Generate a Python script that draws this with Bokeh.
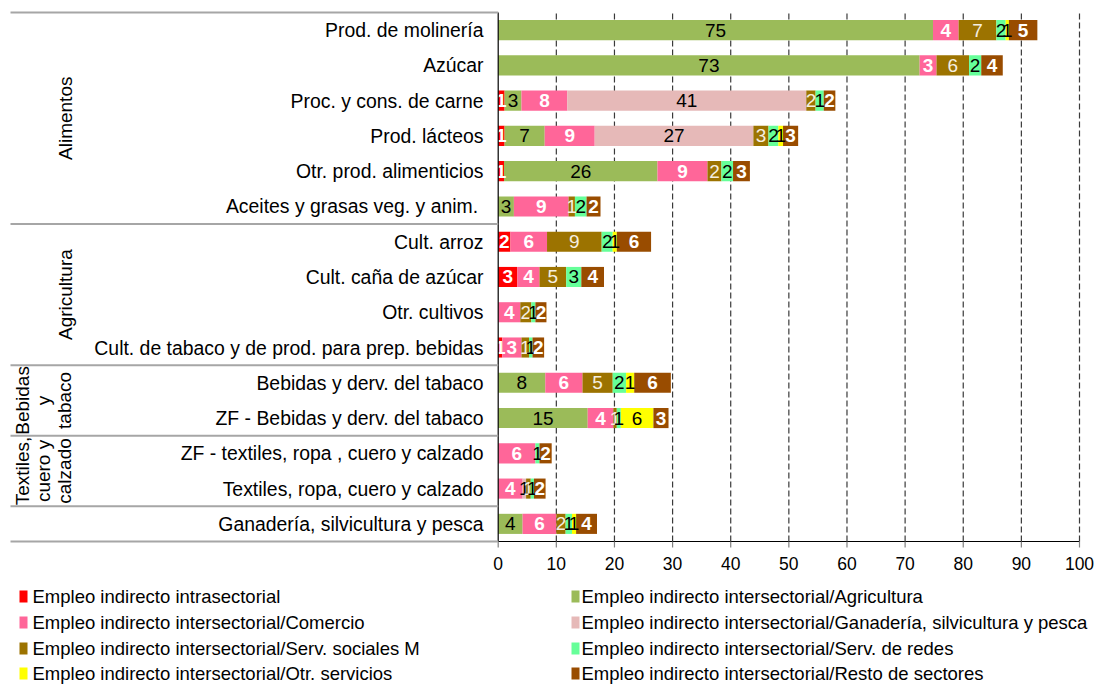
import numpy as np
from bokeh.plotting import figure
from bokeh.models import ColumnDataSource, Range1d
from bokeh.core.properties import value
from bokeh.embed import file_html
from bokeh.resources import INLINE

# ---------------- data (top to bottom) ----------------
categories = [
    "Prod. de molinería",
    "Azúcar",
    "Proc. y cons. de carne",
    "Prod. lácteos",
    "Otr. prod. alimenticios",
    "Aceites y grasas  veg. y anim.",
    "Cult. arroz",
    "Cult. caña de azúcar",
    "Otr. cultivos",
    "Cult. de tabaco y de prod. para prep. bebidas",
    "Bebidas y derv. del tabaco",
    "ZF - Bebidas y derv. del tabaco",
    "ZF - textiles, ropa , cuero y calzado",
    "Textiles, ropa, cuero y calzado",
    "Ganadería, silvicultura y pesca",
]
intrasectorial = [0, 0, 1.1, 1.1, 1.0, 0, 2.1, 3.3, 0, 0.7, 0, 0, 0, 0, 0]
agricultura = [74.8, 72.5, 2.9, 6.9, 26.4, 2.7, 0, 0, 0, 0, 8.1, 15.4, 0, 0, 4.2]
comercio = [4.4, 2.9, 7.9, 8.6, 8.6, 9.4, 6.3, 3.8, 3.8, 3.3, 6.4, 4.4, 6.4, 4.2, 5.8]
ganaderia = [0, 0, 41.1, 27.3, 0, 0, 0, 0, 0, 0, 0, 0, 0, 0.6, 0]
serv_sociales = [6.5, 5.6, 1.6, 2.6, 2.4, 1.1, 9.4, 4.6, 1.9, 1.3, 5.2, 0.6, 0, 0.8, 1.6]
serv_redes = [1.6, 2.1, 1.4, 1.7, 2.0, 2.0, 1.9, 2.6, 0.7, 0.6, 2.3, 0.7, 0.7, 0.55, 1.1]
otr_servicios = [0.55, 0, 0, 0.8, 0, 0, 0.7, 0, 0, 0, 1.4, 5.6, 0, 0, 0.7]
resto = [4.9, 3.7, 2.0, 2.6, 2.9, 2.4, 5.9, 3.9, 1.9, 2.0, 6.3, 2.6, 2.1, 2.0, 3.6]

series_names = [
    "Empleo indirecto intrasectorial",
    "Empleo indirecto intersectorial/Agricultura",
    "Empleo indirecto intersectorial/Comercio",
    "Empleo indirecto intersectorial/Ganadería, silvicultura y pesca",
    "Empleo indirecto intersectorial/Serv. sociales M",
    "Empleo indirecto intersectorial/Serv. de redes",
    "Empleo indirecto intersectorial/Otr. servicios",
    "Empleo indirecto intersectorial/Resto de sectores",
]
series_values = [intrasectorial, agricultura, comercio, ganaderia,
                 serv_sociales, serv_redes, otr_servicios, resto]
colors = ["#FF0000", "#9BBB59", "#FF6699", "#E6B9B8",
          "#9C7300", "#66FF99", "#FFFF00", "#994C00"]
label_colors = ["#FFFFFF", "#000000", "#FFFFFF", "#000000",
                "#F5EFE0", "#000000", "#000000", "#FFFFFF"]
label_styles = ["bold", "normal", "bold", "normal",
                "normal", "normal", "normal", "bold"]

group_names = [["Alimentos"], ["Agricultura"], ["Bebidas", "y", "tabaco"],
               ["Textiles,", "cuero y", "calzado"], []]
group_sizes = [6, 4, 2, 2, 1]
x_ticks = list(range(0, 101, 10))

# ---------------- layout constants (pixels) ----------------
W, H = 1100, 684
FONT = "Liberation Sans"
X0 = 497.7      # pixel of value 0
PXU = 5.813     # pixels per unit on x
Y0 = 541.0      # pixel of the bottom of the bar area
RP = 35.27      # pixels per row

def fx(px):
    return (px - X0) / PXU

def fy(py):
    return (Y0 - py) / RP

n = len(categories)
p = figure(width=W, height=H, x_range=Range1d(fx(0), fx(W)),
           y_range=Range1d(fy(H), fy(0)), min_border=0,
           output_backend="svg", toolbar_location=None)
p.xaxis.visible = False
p.yaxis.visible = False
p.grid.visible = False
p.outline_line_color = None
p.background_fill_color = "white"
p.border_fill_color = "white"

ypos = [n - i - 0.5 for i in range(n)]

# grid lines (dashed)
p.segment(x0=x_ticks[1:], y0=[0] * 10, x1=x_ticks[1:], y1=[n] * 10,
          line_color="#3a3a3a", line_width=1.2, line_dash="6 3")

# stacked bars
keys = ["s%d" % i for i in range(len(series_values))]
data = {"y": ypos}
for k, v in zip(keys, series_values):
    data[k] = v
src = ColumnDataSource(data)
p.hbar_stack(keys, y="y", height=0.57, color=colors, line_color=None, source=src)

# labels inside segments
cum = np.zeros(n)
for i, vals in enumerate(series_values):
    vals = np.array(vals, dtype=float)
    centers = cum + vals / 2.0
    cum = cum + vals
    lx, ly, lt = [], [], []
    for j, v in enumerate(vals):
        r = int(np.floor(v + 0.5))
        if r >= 1:
            lx.append(centers[j]); ly.append(ypos[j]); lt.append(str(r))
    p.text(x=lx, y=ly, text=lt, text_align="center", text_baseline="middle",
           text_color=label_colors[i], text_font=value(FONT),
           text_font_size="19px", text_font_style=label_styles[i])

# axes lines
p.segment(x0=[0], y0=[0], x1=[0], y1=[n], line_color="black", line_width=1.2)
p.segment(x0=[0], y0=[0], x1=[100], y1=[0], line_color="black", line_width=1.2)
# x ticks and labels
p.segment(x0=x_ticks, y0=[0] * 11, x1=x_ticks, y1=[fy(Y0 + 6)] * 11,
          line_color="#808080", line_width=1.2)
p.text(x=x_ticks, y=[fy(563)] * 11, text=[str(t) for t in x_ticks],
       text_align="center", text_baseline="middle", text_color="black",
       text_font=value(FONT), text_font_size="17.5px")

# category labels
p.text(x=[fx(483)] * n, y=ypos, text=categories, text_align="right",
       text_baseline="middle", text_color="black", text_font=value(FONT),
       text_font_size="19.4px")

# group separators
bounds = [float(n)]
for s in group_sizes:
    bounds.append(bounds[-1] - s)
p.segment(x0=[fx(10)] * len(bounds), y0=bounds, x1=[fx(X0)] * len(bounds),
          y1=bounds, line_color="#A6A6A6", line_width=2)

# group labels (rotated)
col_px = {1: [65], 3: [22, 43, 64]}
gx, gy, gt = [], [], []
for k, lines in enumerate(group_names):
    if not lines:
        continue
    mid = (bounds[k] + bounds[k + 1]) / 2.0
    for cx, line in zip(col_px[len(lines)], lines):
        gx.append(fx(cx)); gy.append(mid); gt.append(line)
p.text(x=gx, y=gy, text=gt, angle=np.pi / 2, text_align="center",
       text_baseline="middle", text_color="black", text_font=value(FONT),
       text_font_size="19px")

# legend (two columns)
leg_rows = [596, 622, 648, 673]
col_marker = [23, 575]
col_text = [32, 581]
mx, my, mc, tx, ty, tt = [], [], [], [], [], []
for i, name in enumerate(series_names):
    c = i % 2
    r = i // 2
    mx.append(fx(col_marker[c])); my.append(fy(leg_rows[r])); mc.append(colors[i])
    tx.append(fx(col_text[c])); ty.append(fy(leg_rows[r])); tt.append(name)
p.rect(x=mx, y=my, width=8, height=12, width_units="screen",
       height_units="screen", fill_color=mc, line_color=None)
p.text(x=tx, y=ty, text=tt, text_align="left", text_baseline="middle",
       text_color="black", text_font=value(FONT), text_font_size="18.5px")

open("out.html", "w").write(file_html(p, INLINE))
